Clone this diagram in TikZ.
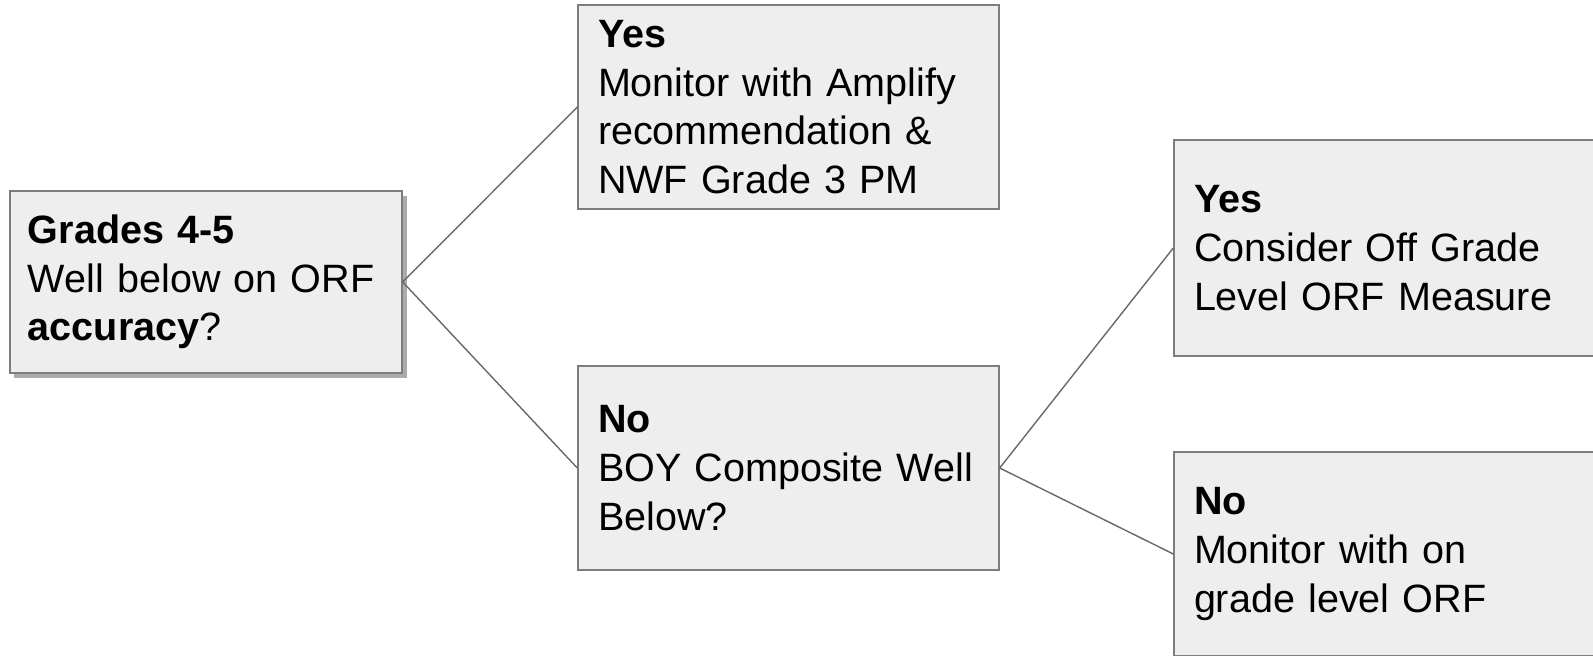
\documentclass[tikz,border=0pt]{standalone}
\usepackage{fontspec}
\setmainfont{Liberation Sans}
\usetikzlibrary{positioning,shadows}
\definecolor{boxfill}{RGB}{238,238,238}
\definecolor{boxline}{RGB}{125,125,125}
\definecolor{linkline}{RGB}{105,105,105}

\begin{document}
\begin{tikzpicture}[
  outcome/.style={draw=boxline, line width=0.8pt, fill=boxfill,
                  text width=7.62cm, inner xsep=0.4cm, minimum height=4.08cm,
                  align=left, font=\fontsize{22.5}{27.7}\selectfont},
  question/.style={outcome, text width=7.12cm, inner xsep=0.36cm,
                   minimum height=3.64cm,
                   drop shadow={shadow xshift=0.09cm, shadow yshift=-0.11cm,
                                fill=black!55, opacity=0.6}},
  link/.style={draw=linkline, line width=0.8pt}
]
\clip (0,0) rectangle (31.86,13.1);
\node[question] (grades) at (4.12,7.46)
  {\textbf{Grades 4-5}\\Well below on ORF\\\textbf{accuracy}?};
\node[outcome] (amplify) at (15.77,10.96)
  {\textbf{Yes}\\Monitor with Amplify\\recommendation \&\\NWF Grade 3 PM};
\node[outcome] (boy) at (15.77,3.74)
  {\textbf{No}\\BOY Composite Well\\Below?};
\node[outcome, minimum height=4.32cm] (offgrade) at (27.69,8.14)
  {\textbf{Yes}\\Consider Off Grade\\Level ORF Measure};
\node[outcome] (ongrade) at (27.69,2.02)
  {\textbf{No}\\Monitor with on\\grade level ORF};

\draw[link] (grades.east) -- (amplify.west);
\draw[link] (grades.east) -- (boy.west);
\draw[link] (boy.east) -- (offgrade.west);
\draw[link] (boy.east) -- (ongrade.west);
\end{tikzpicture}
\end{document}
